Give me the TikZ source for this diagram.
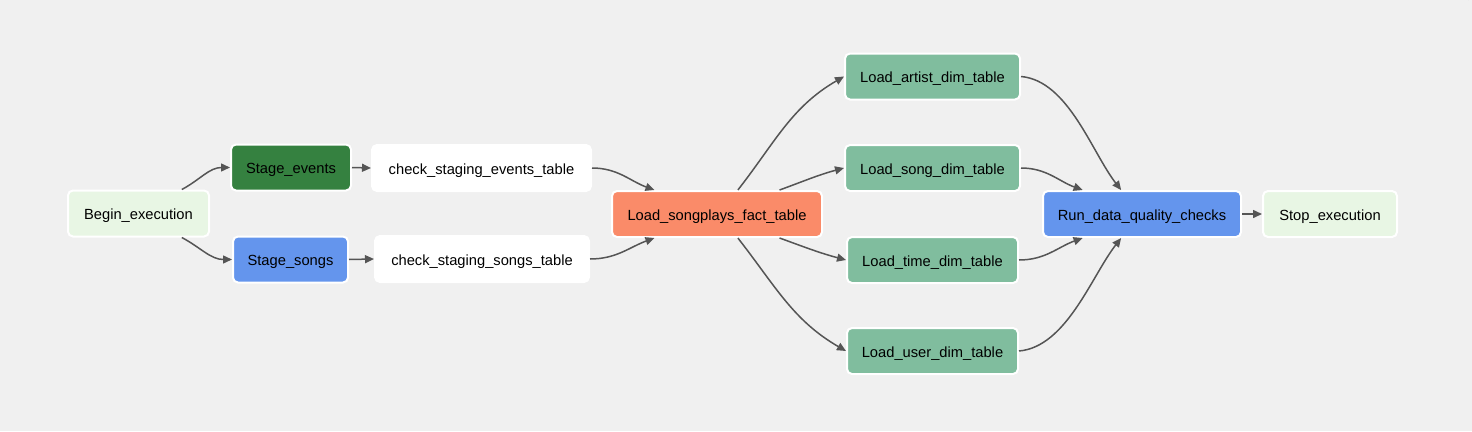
\documentclass[tikz,border=0pt]{standalone}
\usepackage{fontspec}
\setmainfont{Liberation Sans}
\usetikzlibrary{arrows.meta}
\definecolor{bg}{HTML}{F0F0F0}
\definecolor{startc}{HTML}{E8F6E4}
\definecolor{stagee}{HTML}{358140}
\definecolor{blueish}{HTML}{6495ED}
\definecolor{factc}{HTML}{FA8B69}
\definecolor{dimc}{HTML}{80BD9E}
\definecolor{edgec}{HTML}{555555}
\tikzset{
  task/.style={draw=white, line width=2pt, rounded corners=5pt, minimum height=46pt,
    inner sep=0pt, text height=15.5pt, text depth=3pt,
    font=\fontsize{14.7}{17}\selectfont, text=black},
  conn/.style={draw=edgec, line width=1.5pt, -{Triangle[length=9pt,width=8pt]}},
}
\begin{document}
\begin{tikzpicture}[x=1pt,y=-1pt]
\fill[bg] (0,0) rectangle (1472,431);
\useasboundingbox (0,0) rectangle (1472,431);
\draw[black!22, line width=1.3pt] (1468,0) arc[start angle=180, end angle=230, radius=14];

\node[task, fill=startc, minimum width=141pt] (begin) at (138.5,213.5) {Begin\_execution};
\node[task, fill=stagee, minimum width=120pt] (se) at (291,167.5) {Stage\_events};
\node[task, fill=blueish, minimum width=115pt] (ss) at (290.5,259.5) {Stage\_songs};
\node[task, fill=white, minimum width=219pt] (ce) at (481.5,168) {check\_staging\_events\_table};
\node[task, fill=white, minimum width=214pt] (cs) at (482,259) {check\_staging\_songs\_table};
\node[task, fill=factc, minimum width=210pt] (lsp) at (717,214) {Load\_songplays\_fact\_table};
\node[task, fill=dimc, minimum width=175pt] (artist) at (932.5,76.5) {Load\_artist\_dim\_table};
\node[task, fill=dimc, minimum width=175pt] (song) at (932.5,168) {Load\_song\_dim\_table};
\node[task, fill=dimc, minimum width=171pt] (time) at (932.5,260) {Load\_time\_dim\_table};
\node[task, fill=dimc, minimum width=171pt] (user) at (932.5,351) {Load\_user\_dim\_table};
\node[task, fill=blueish, minimum width=198pt] (run) at (1142,214) {Run\_data\_quality\_checks};
\node[task, fill=startc, minimum width=134pt] (stop) at (1330,214) {Stop\_execution};

\draw[conn] (begin.29) to[out=28,in=180] (se.west);
\draw[conn] (begin.-29) to[out=-28,in=180] (ss.west);
\draw[conn] (se.east) -- (ce.west);
\draw[conn] (ss.east) -- (cs.west);
\draw[conn] (ce.east) to[out=0,in=160] (lsp.159);
\draw[conn] (cs.east) to[out=0,in=200] (lsp.201);
\draw[conn] (lsp.49) to[out=52,in=210] (artist.west);
\draw[conn] (lsp.21.5) to[out=20,in=195] (song.west);
\draw[conn] (lsp.-21.5) to[out=-20,in=165] (time.west);
\draw[conn] (lsp.-49) to[out=-52,in=150] (user.west);
\draw[conn] (artist.east) to[out=-5,in=128,looseness=0.8] (run.131);
\draw[conn] (song.east) to[out=0,in=160] (run.158);
\draw[conn] (time.east) to[out=0,in=200] (run.202);
\draw[conn] (user.east) to[out=5,in=232,looseness=0.8] (run.229);
\draw[conn] (run.east) -- (stop.west);
\end{tikzpicture}
\end{document}
